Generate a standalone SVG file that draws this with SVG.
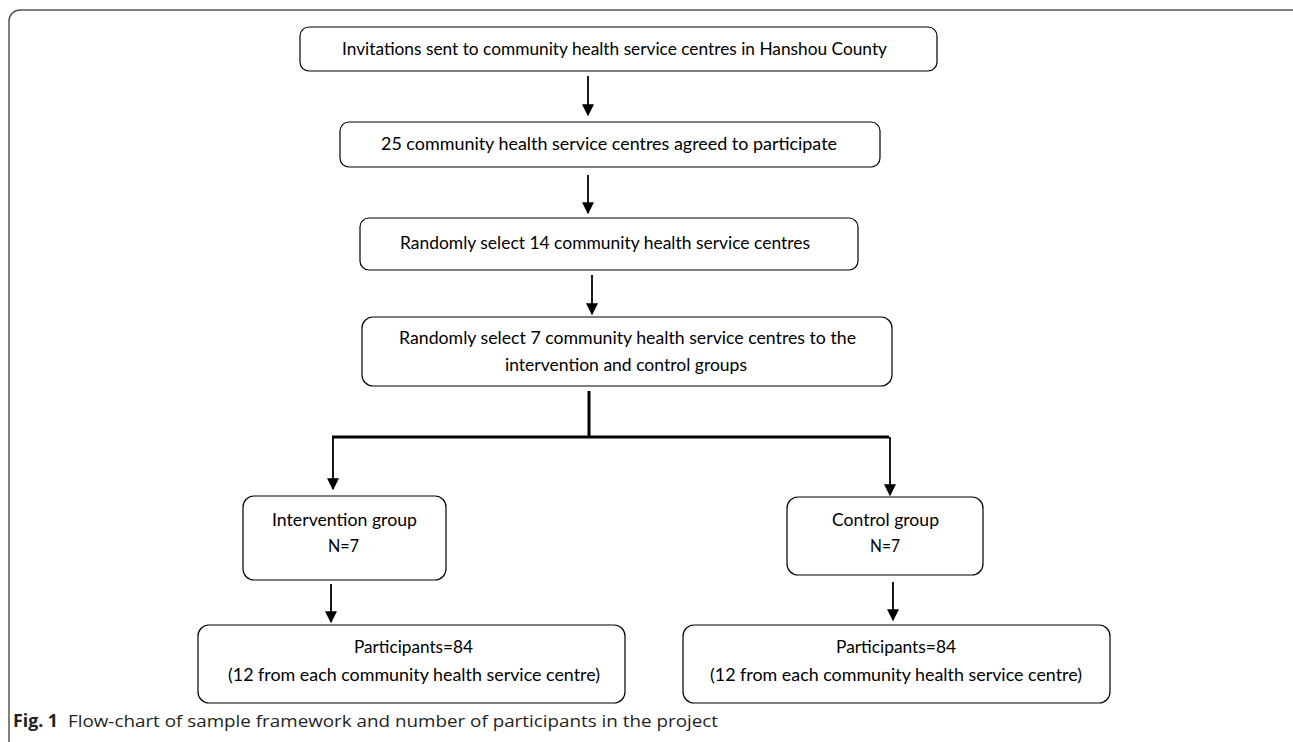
<svg xmlns="http://www.w3.org/2000/svg" width="1293" height="742" viewBox="0 0 1293 742">
<defs>
<style>
.box{fill:#fff;stroke:#000;stroke-width:1.2}
.t{font-family:Lato,"Open Sans",sans-serif;font-size:18px;fill:#000}
.ln{stroke:#000;stroke-width:1.8;fill:none}
.thick{stroke:#000;stroke-width:3;fill:none}
.cap{font-family:"Open Sans","Noto Sans",sans-serif;font-size:17px;fill:#231f20}
</style>
<marker id="ah" viewBox="0 0 10 10" refX="9" refY="5" markerWidth="12" markerHeight="12" markerUnits="userSpaceOnUse" orient="auto">
<path d="M0,0 L10,5 L0,10 z" fill="#000"/>
</marker>
</defs>
<rect id="frame" x="9" y="10" width="1300" height="800" rx="11" fill="none" stroke="#555" stroke-width="1.5"/>
<g id="n1"><rect class="box" x="300" y="27" width="637" height="44" rx="9"/><text class="t" x="342" y="55" textLength="545" lengthAdjust="spacingAndGlyphs">Invitations sent to community health service centres in Hanshou County</text></g>
<g id="n2"><rect class="box" x="340" y="122" width="540" height="45" rx="9"/><text class="t" x="381" y="150" textLength="456" lengthAdjust="spacingAndGlyphs">25 community health service centres agreed to participate</text></g>
<g id="n3"><rect class="box" x="360" y="218" width="498" height="52" rx="9"/><text class="t" x="400" y="249" textLength="410" lengthAdjust="spacingAndGlyphs">Randomly select 14 community health service centres</text></g>
<g id="n4"><rect class="box" x="362" y="317" width="530" height="69" rx="11"/><text class="t" x="399" y="344" textLength="457" lengthAdjust="spacingAndGlyphs">Randomly select 7 community health service centres to the</text><text class="t" x="505" y="371" textLength="242" lengthAdjust="spacingAndGlyphs">intervention and control groups</text></g>
<g id="n5"><rect class="box" x="243" y="496" width="203" height="84" rx="11"/><text class="t" x="272" y="526" textLength="145" lengthAdjust="spacingAndGlyphs">Intervention group</text><text class="t" x="328" y="552" textLength="31" lengthAdjust="spacingAndGlyphs">N=7</text></g>
<g id="n6"><rect class="box" x="787" y="497" width="196" height="78" rx="11"/><text class="t" x="832" y="526" textLength="107" lengthAdjust="spacingAndGlyphs">Control group</text><text class="t" x="870" y="552" textLength="30" lengthAdjust="spacingAndGlyphs">N=7</text></g>
<g id="n7"><rect class="box" x="198" y="625" width="427" height="78" rx="11"/><text class="t" x="354" y="653" textLength="119" lengthAdjust="spacingAndGlyphs">Participants=84</text><text class="t" x="228" y="681" textLength="372" lengthAdjust="spacingAndGlyphs">(12 from each community health service centre)</text></g>
<g id="n8"><rect class="box" x="683" y="625" width="427" height="78" rx="11"/><text class="t" x="836" y="653" textLength="120" lengthAdjust="spacingAndGlyphs">Participants=84</text><text class="t" x="710" y="681" textLength="372" lengthAdjust="spacingAndGlyphs">(12 from each community health service centre)</text></g>
<g id="connectors">
<line class="ln" x1="588" y1="76" x2="588" y2="115" marker-end="url(#ah)"/>
<line class="ln" x1="588" y1="175" x2="588" y2="213" marker-end="url(#ah)"/>
<line class="ln" x1="592" y1="275" x2="592" y2="314" marker-end="url(#ah)"/>
<line class="thick" x1="589" y1="391" x2="589" y2="437"/>
<line class="thick" x1="332" y1="437" x2="889" y2="437"/>
<line class="ln" x1="333" y1="437" x2="333" y2="489" marker-end="url(#ah)"/>
<line class="ln" x1="890" y1="437" x2="890" y2="495" marker-end="url(#ah)"/>
<line class="ln" x1="331" y1="584" x2="331" y2="622" marker-end="url(#ah)"/>
<line class="ln" x1="893" y1="582" x2="893" y2="620" marker-end="url(#ah)"/>
</g>
<g id="caption"><text class="cap" x="13" y="727"><tspan font-weight="bold" textLength="45" lengthAdjust="spacingAndGlyphs">Fig. 1</tspan><tspan x="68" textLength="650" lengthAdjust="spacingAndGlyphs">Flow-chart of sample framework and number of participants in the project</tspan></text></g>
</svg>
